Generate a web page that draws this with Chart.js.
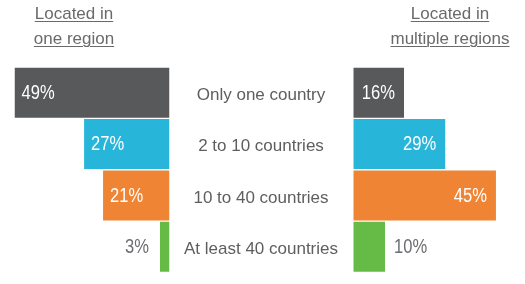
<!DOCTYPE html>
<html>
<head>
<meta charset="utf-8">
<script src="https://cdn.jsdelivr.net/npm/chart.js@4/dist/chart.umd.min.js"></script>
<style>
  html, body { margin: 0; padding: 0; background: #ffffff; }
  #wrap { position: relative; width: 525px; height: 284px; overflow: hidden; font-family: "Liberation Sans", Arial, sans-serif; }
  canvas { position: absolute; top: 0; }
  #left { left: 0; }
  #right { left: 170px; }
  .head { position: absolute; top: 1px; width: 160px; text-align: center; font-size: 17px; line-height: 25px; color: #6a6a6a; text-decoration: underline; text-decoration-thickness: 1px; text-underline-offset: 2px; }
  #hLeft { left: -6px; }
  #hRight { left: 370px; }
</style>
</head>
<body>
<div id="wrap">
  <canvas id="left" width="175" height="284"></canvas>
  <canvas id="right" width="355" height="284"></canvas>
  <div class="head" id="hLeft">Located in<br>one region</div>
  <div class="head" id="hRight">Located in<br>multiple regions</div>
</div>
<script>
// Share of companies by number of countries they operate in
const categories = ['Only one country', '2 to 10 countries', '10 to 40 countries', 'At least 40 countries'];
const oneRegion = [49, 27, 21, 3];
const multipleRegions = [16, 29, 45, 10];
const barColors = ['#58595b', '#27b6d9', '#ef8434', '#65bb46'];

const CAT_FONT = '17px "Liberation Sans", Arial, sans-serif';
const VAL_FONT = '19.5px "Liberation Sans", Arial, sans-serif';
const VAL_SQUEEZE = 0.85; // condensed look for the percentage figures

// Percentage labels: inside the bar near its outer end, or just outside when the bar is short
function valueLabels(side) {
  return {
    id: 'valueLabels',
    afterDatasetsDraw(chart) {
      const ctx = chart.ctx;
      const meta = chart.getDatasetMeta(0);
      const data = chart.data.datasets[0].data;
      meta.data.forEach((bar, i) => {
        const text = data[i] + '%';
        const len = Math.abs(bar.base - bar.x);
        const inside = len > 40;
        let x, align;
        if (side === 'left') {
          if (inside) { align = 'left'; x = bar.x + 7; }
          else { align = 'right'; x = bar.x - 11; }
        } else {
          if (inside) { align = 'right'; x = bar.x - 9; }
          else { align = 'left'; x = bar.x + 9; }
        }
        ctx.save();
        ctx.font = VAL_FONT;
        ctx.textBaseline = 'middle';
        ctx.textAlign = align;
        ctx.fillStyle = inside ? '#ffffff' : '#6d6e71';
        ctx.translate(x, bar.y + 1);
        ctx.scale(VAL_SQUEEZE, 1);
        ctx.fillText(text, 0, 0);
        ctx.restore();
      });
    }
  };
}

// Category names centred in the gap between the two bar groups
const categoryLabels = {
  id: 'categoryLabels',
  afterDraw(chart) {
    const ctx = chart.ctx;
    const yScale = chart.scales.y;
    ctx.save();
    ctx.font = CAT_FONT;
    ctx.fillStyle = '#5e5e5e';
    ctx.textAlign = 'center';
    ctx.textBaseline = 'middle';
    categories.forEach((c, i) => {
      ctx.fillText(c, 91, yScale.getPixelForValue(i) + 2.5);
    });
    ctx.restore();
  }
};

function barConfig(values, side) {
  const isLeft = side === 'left';
  return {
    type: 'bar',
    data: {
      labels: categories,
      datasets: [{
        data: values,
        backgroundColor: barColors,
        borderWidth: 0,
        barPercentage: 0.973,
        categoryPercentage: 1
      }]
    },
    options: {
      indexAxis: 'y',
      responsive: false,
      animation: false,
      devicePixelRatio: 1,
      layout: {
        padding: isLeft
          ? { left: 14.5, right: 5.5, top: 67, bottom: 11.5 }
          : { left: 183.3, right: 13.2, top: 67, bottom: 11.5 }
      },
      plugins: { legend: { display: false }, tooltip: { enabled: false }, title: { display: false } },
      scales: {
        x: { display: false, min: 0, max: isLeft ? 49 : 50, reverse: isLeft },
        y: { display: false }
      }
    },
    plugins: isLeft ? [valueLabels('left')] : [valueLabels('right'), categoryLabels]
  };
}

new Chart(document.getElementById('left'), barConfig(oneRegion, 'left'));
new Chart(document.getElementById('right'), barConfig(multipleRegions, 'right'));
</script>
</body>
</html>
